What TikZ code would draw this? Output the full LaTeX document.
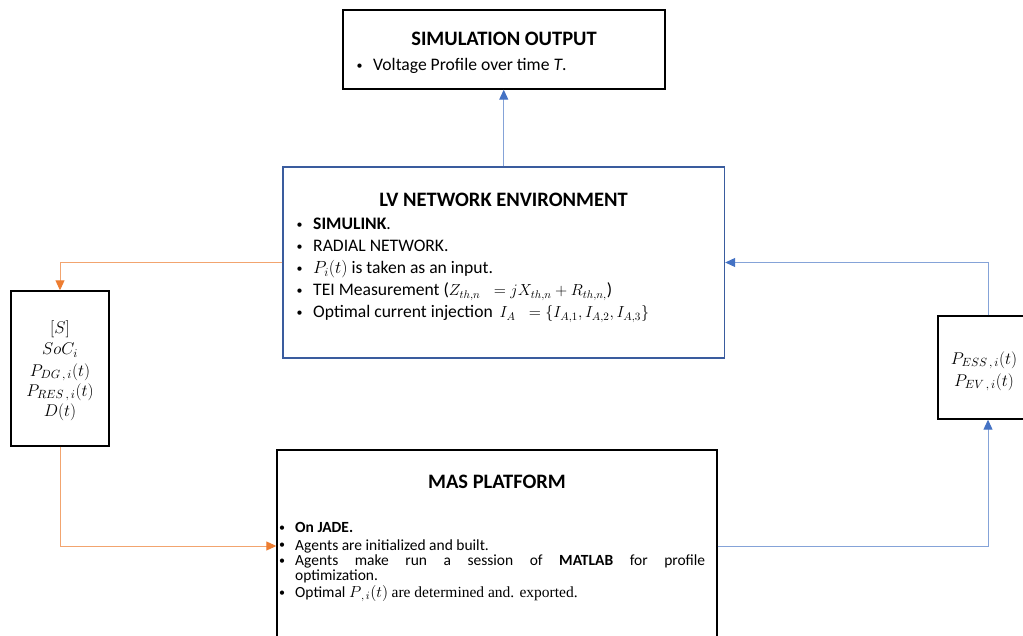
\RequirePackage{fix-cm}
\documentclass[tikz,border=0pt]{standalone}
\usepackage{fontspec}
\setmainfont{Carlito}
\newfontfamily\serifrm{Liberation Serif}
\usetikzlibrary{arrows.meta}

\definecolor{lvblue}{HTML}{3A5C9E}
\definecolor{lineorange}{HTML}{F2A46F}
\definecolor{tiporange}{HTML}{ED7D31}
\definecolor{lineblue}{HTML}{85A3D8}
\definecolor{tipblue}{HTML}{4472C4}

\newcommand{\bodyfont}{\fontsize{17.6}{21}\selectfont}
\newcommand{\masfont}{\fontsize{15.5}{17}\selectfont}
\newcommand{\mathfont}{\fontsize{17}{20}\selectfont}
\newcommand{\headfont}{\fontsize{20.5}{24}\selectfont\bfseries}
% small round bullet followed by a fixed indent
\newcommand{\bul}[1]{\makebox[#1][l]{\raisebox{1.2pt}{\fontsize{12}{12}\selectfont\textbullet}}}
\newcommand{\smallmath}[1]{{\fontsize{16}{19}\selectfont$#1$}}

\begin{document}
\begin{tikzpicture}[x=1pt,y=-1pt,
  box/.style={draw=black,line width=1.4pt,inner sep=0pt,fill=white},
  head/.style={inner sep=0pt,anchor=base,font=\headfont},
  itemline/.style={inner sep=0pt,anchor=base west,font=\bodyfont},
  masline/.style={inner sep=0pt,anchor=base west,font=\masfont},
  mathline/.style={inner sep=0pt,anchor=base,font=\mathfont},
  oline/.style={draw=lineorange,line width=1pt,-{Triangle[length=10pt,width=9pt,color=tiporange]}},
  bline/.style={draw=lineblue,line width=1pt,-{Triangle[length=10pt,width=9pt,color=tipblue]}}
]
\clip (0,0) rectangle (1023,636);
\fill[white] (0,0) rectangle (1023,636);

% boxes
\node[box,minimum width=322pt,minimum height=79pt] (sim) at (504,49.5) {};
\node[box,draw=lvblue,minimum width=441.5pt,minimum height=191pt] (lv) at (503.75,262.5) {};
\node[box,minimum width=98pt,minimum height=155pt] (lft) at (60,368.5) {};
\node[box,minimum width=100pt,minimum height=103pt] (rgt) at (988,367.5) {};
\node[box,minimum width=440pt,minimum height=192pt] (mas) at (497,546) {};

% simulation output
\node[head] (simT) at (504,45.5) {SIMULATION OUTPUT};
\node[itemline] (simA) at (356.5,70.5) {\bul{16.5pt}Voltage Profile over time \textit{T}.};

% LV network environment
\node[head] (lvT) at (503.5,207) {LV NETWORK ENVIRONMENT};
\node[itemline] (lvA) at (296.5,230) {\bul{16.5pt}\textbf{SIMULINK}.};
\node[itemline] (lvB) at (296.5,252) {\bul{16.5pt}RADIAL NETWORK.};
\node[itemline] (lvC) at (296.5,274) {\bul{16.5pt}$P_i(t)$ is taken as an input.};
\node[itemline] (lvD) at (296.5,296) {\bul{16.5pt}TEI Measurement (\smallmath{Z_{th,n}\;\;= jX_{th,n} + R_{th,n,}})};
\node[itemline] (lvE) at (296.5,318) {\bul{16.5pt}Optimal current injection\, \smallmath{I_A\;\;= \{I_{A,1}, I_{A,2}, I_{A,3}\}}};

% inputs to the agents
\node[mathline] (lfA) at (60,334) {$[S]$};
\node[mathline] (lfB) at (60,355) {$SoC_i$};
\node[mathline] (lfC) at (60,376) {$P_{DG\,,\,i}(t)$};
\node[mathline] (lfD) at (60,396) {$P_{RES\,,\,i}(t)$};
\node[mathline] (lfE) at (60,416) {$D(t)$};

% outputs of the agents
\node[mathline] (rgA) at (984,364) {$P_{ESS\,,\,i}(t)$};
\node[mathline] (rgB) at (984,386) {$P_{EV\,,\,i}(t)$};

% MAS platform
\node[head] (masT) at (497,488.5) {MAS PLATFORM};
\node[masline] (maA) at (279,532.5) {\bul{16pt}\textbf{On JADE.}};
\node[masline] (maB) at (279,550) {\bul{16pt}Agents are initialized and built.};
\node[masline] (maC) at (279,565.5) {\bul{16pt}\makebox[410pt][s]{Agents make run a session of \textbf{MATLAB} for profile}};
\node[masline] (maD) at (295,580.5) {optimization.};
\node[masline] (maE) at (279,597.5) {\bul{16pt}Optimal {\fontsize{16}{17}\selectfont$P_{\,,\,i}(t)$} {\serifrm are determined and. exported.}};

% connectors
\draw[bline] (lv.north) -- (lv.north |- sim.south);
\draw[oline] (lv.west) -| (lft.north);
\draw[oline] (lft.south) |- (mas.west);
\draw[bline] (mas.east) -| (rgt.south);
\draw[bline] (rgt.north) |- (lv.east);
\end{tikzpicture}
\end{document}
